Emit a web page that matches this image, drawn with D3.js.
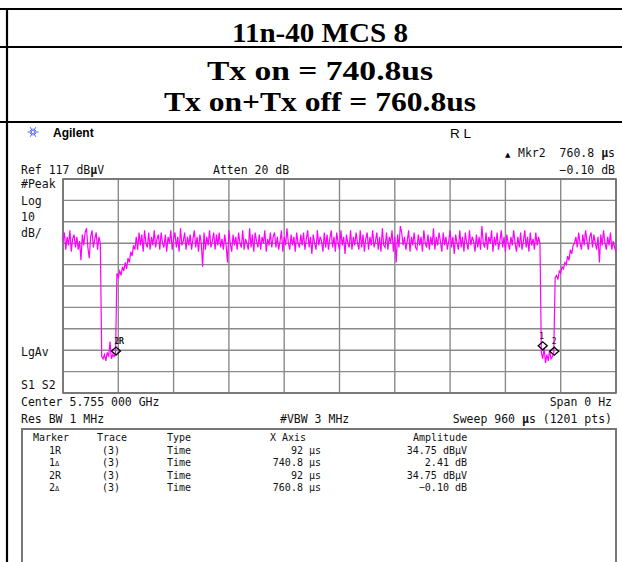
<!DOCTYPE html>
<html><head><meta charset="utf-8">
<script src="https://cdn.jsdelivr.net/npm/d3@7"></script>
<style>html,body{margin:0;padding:0;background:#fff;}svg{display:block;}</style>
</head><body>
<svg id="c" width="622" height="562"></svg>
<script>
// ---------- data ----------
const titleLines = ["11n-40 MCS 8", "Tx on = 740.8us", "Tx on+Tx off = 760.8us"];
const sweepUs = 960;          // zero span sweep time
const refLevel = 117;         // dBµV
const dbPerDiv = 10;
const divisions = 10;

// trace amplitude (dBµV), sampled every 2.4 µs across the 960 µs sweep
const onBurstStart = [88, 92, 84, 90, 86, 93, 83, 89, 91, 85, 90, 84, 88, 79, 91, 86, 92, 94, 85, 80, 90, 93, 85, 89, 92, 84, 90, 87];
const gap1 = [34, 33, 35, 32, 36, 34, 41, 33, 35, 34, 35];
const rise1 = [73, 71, 74, 72, 76, 74, 78, 75, 80, 78, 83, 81, 86, 84];
const onBurstMain = [
  90, 84, 92, 86, 91, 83, 93, 87, 85, 92, 84, 90, 86, 93, 85, 89, 91, 84, 92, 87,
  85, 91, 83, 90, 87, 93, 84, 89, 92, 85, 90, 83, 94, 86, 88, 92, 84, 90, 86, 91,
  84, 89, 93, 85, 90, 83, 91, 87, 76, 92, 84, 90, 86, 93, 85, 88, 92, 84, 91, 86,
  92, 85, 89, 84, 91, 86, 78, 93, 87, 83, 91, 86, 90, 84, 92, 87, 85, 93, 84, 89,
  87, 84, 94, 85, 91, 83, 92, 88, 85, 91, 84, 90, 87, 93, 83, 89, 86, 92, 85, 90,
  92, 85, 90, 84, 88, 93, 83, 90, 86, 94, 87, 84, 91, 86, 90, 83, 92, 87, 85, 91,
  86, 92, 84, 89, 93, 85, 90, 82, 91, 87, 84, 93, 86, 90, 88, 83, 92, 85, 91, 84,
  89, 93, 85, 90, 83, 92, 87, 84, 93, 86, 90, 82, 91, 87, 85, 93, 84, 90, 86, 92,
  87, 84, 93, 85, 91, 83, 89, 92, 84, 90, 86, 93, 85, 88, 92, 84, 90, 83, 94, 86,
  85, 92, 84, 90, 87, 93, 83, 90, 78, 91, 85, 95, 92, 86, 90, 84, 88, 93, 83, 90,
  86, 92, 85, 84, 91, 86, 90, 83, 93, 87, 85, 91, 84, 90, 86, 94, 84, 90, 86, 92,
  88, 83, 92, 86, 90, 84, 88, 93, 85, 90, 82, 91, 87, 84, 93, 85, 90, 83, 92, 87,
  84, 93, 86, 90, 88, 83, 91, 85, 90, 84, 95, 87, 85, 92, 84, 90, 87, 93, 83, 90,
  86, 92, 84, 88, 93, 85, 90, 83, 91, 87, 84, 90, 86, 93, 87, 83, 90, 85, 92, 84,
  88, 93, 85, 90, 83, 92, 86, 89, 84, 92, 86, 90, 87];
const gap2 = [36, 33, 38, 31, 35, 32, 37, 33, 34, 36];
const rise2 = [71, 72, 70, 74, 73, 76, 75, 78, 77, 81, 79, 84, 82, 86, 87];
const onBurstEnd = [90, 85, 92, 87, 84, 91, 86, 93, 88, 84, 90, 92, 85, 91, 87, 84, 90, 78, 91, 86, 93, 87, 84, 90, 86, 92, 84, 88, 85, 83];

// markers
const markerLabels = ["1R", "1\u0394", "2R", "2\u0394"];
const markerTraces = ["(3)", "(3)", "(3)", "(3)"];
const markerTypes = ["Time", "Time", "Time", "Time"];
const markerXText = ["92 \u00b5s", "740.8 \u00b5s", "92 \u00b5s", "760.8 \u00b5s"];
const markerAmpText = ["34.75 dB\u00b5V", "2.41 dB", "34.75 dB\u00b5V", "\u22120.10 dB"];
const refMarkerTime = 92, refMarkerAmp = 34.75;
const deltaTimes = [740.8, 760.8];
const deltaAmps = [2.41, -0.10];

// ---------- drawing ----------
const svg = d3.select("#c");
const trace = [].concat(onBurstStart, gap1, rise1, onBurstMain, gap2, rise2, onBurstEnd);
const stepUs = sweepUs / (trace.length - 1);

// page table lines
const black = "#000";
[9, 47, 122].forEach(y => svg.append("line").attr("x1", 0).attr("x2", 622).attr("y1", y).attr("y2", y)
  .attr("stroke", black).attr("stroke-width", 2.2));
svg.append("line").attr("x1", 7).attr("x2", 7).attr("y1", 8).attr("y2", 562).attr("stroke", black).attr("stroke-width", 2.2);

// titles
const titleY = [42, 80, 111];
const titleLen = [176, 226, 312];
titleLines.forEach((t, i) => svg.append("text").attr("x", 320).attr("y", titleY[i]).attr("text-anchor", "middle")
  .attr("font-family", "'Liberation Serif','Times New Roman',serif").attr("font-weight", "bold")
  .attr("font-size", 28).attr("fill", "#000")
  .attr("textLength", titleLen[i]).attr("lengthAdjust", "spacingAndGlyphs").text(t));

// Agilent logo
const logo = svg.append("g").attr("transform", "translate(33,132)");
d3.range(12).forEach(k => {
  const a = k * Math.PI / 6, r = k % 2 ? 3.5 : 5.5;
  logo.append("line").attr("x1", 0).attr("y1", 0).attr("x2", r * Math.cos(a)).attr("y2", r * Math.sin(a))
    .attr("stroke", "#3a4cff").attr("stroke-width", 0.9);
});
logo.append("circle").attr("r", 1.2).attr("fill", "#fff");
svg.append("text").attr("x", 53).attr("y", 137).attr("font-family", "'Liberation Sans',Arial,sans-serif")
  .attr("font-weight", "bold").attr("font-size", 12).text("Agilent");
svg.append("text").attr("x", 450).attr("y", 138).attr("font-family", "'Liberation Sans',Arial,sans-serif")
  .attr("font-size", 13.5).text("R L");

// analyzer text
const mono = "'DejaVu Sans Mono',monospace";
function mtext(x, y, parts, anchor, size) {
  const t = svg.append("text").attr("x", x).attr("y", y).attr("font-family", mono)
    .attr("font-size", size || 11.5).attr("fill", "#111").attr("text-anchor", anchor || "start");
  (Array.isArray(parts) ? parts : [[parts]]).forEach(p => {
    const s = t.append("tspan").text(p[0]);
    if (p[1]) s.attr("font-weight", "bold");
  });
  return t;
}
mtext(21, 174, [["Ref 117 dB"], ["\u00b5", 1], ["V"]]);
mtext(213, 174, "Atten 20 dB");
mtext(615, 174, "\u22120.10 dB", "end");
svg.append("text").attr("x", 505).attr("y", 157).attr("font-size", 7).attr("font-family", "'DejaVu Sans',sans-serif").text("\u25b2");
mtext(518, 157, "Mkr2");
mtext(615, 157, [["760.8 "], ["\u00b5", 1], ["s"]], "end");
mtext(21, 188, "#Peak");
mtext(21, 205, "Log");
mtext(21, 221, "10");
mtext(21, 237, "dB/");
mtext(21, 356, "LgAv");
mtext(21, 389, "S1  S2");
mtext(21, 406, "Center 5.755 000 GHz");
mtext(612, 406, "Span 0 Hz", "end");
mtext(21, 423, "Res BW 1 MHz");
mtext(280, 423, "#VBW 3 MHz");
mtext(612, 423, [["Sweep 960 "], ["\u00b5", 1], ["s (1201 pts)"]], "end");

// graticule
const x = d3.scaleLinear().domain([0, sweepUs]).range([63, 616]);
const y = d3.scaleLinear().domain([refLevel - dbPerDiv * divisions, refLevel]).range([393, 179]);
const grid = svg.append("g");
const xTicks = d3.range(0, divisions + 1).map(i => i * sweepUs / divisions);
const yTicks = d3.range(0, divisions + 1).map(i => refLevel - i * dbPerDiv);
grid.selectAll(".vx").data(xTicks).join("line").attr("x1", d => x(d)).attr("x2", d => x(d))
  .attr("y1", y.range()[1]).attr("y2", y.range()[0]).attr("stroke", "#8a8a8a").attr("stroke-width", 1.4);
grid.selectAll(".hy").data(yTicks).join("line").attr("y1", d => y(d)).attr("y2", d => y(d))
  .attr("x1", x.range()[0]).attr("x2", x.range()[1]).attr("stroke", "#8a8a8a").attr("stroke-width", 1.4);
grid.append("rect").attr("x", 63).attr("y", 179).attr("width", 553).attr("height", 214)
  .attr("fill", "none").attr("stroke", "#6e6e6e").attr("stroke-width", 1.6);

// trace
const line = d3.line().x((d, i) => x(i * stepUs)).y(d => y(d));
svg.append("path").datum(trace).attr("d", line).attr("fill", "none")
  .attr("stroke", "#ff00ff").attr("stroke-width", 1.2);

// markers
const mk = [
  { t: refMarkerTime, a: refMarkerAmp, lab: ["1R", "2R"], dx: 3 },
  { t: refMarkerTime + deltaTimes[0], a: refMarkerAmp + deltaAmps[0], lab: ["1"], dx: -1 },
  { t: refMarkerTime + deltaTimes[1], a: refMarkerAmp + deltaAmps[1], lab: ["2"], dx: 0 }
];
mk.forEach(m => {
  const cx = x(m.t), cy = y(m.a) - 4;
  svg.append("path").attr("d", `M${cx - 4.5},${cy}L${cx},${cy - 4}L${cx + 4.5},${cy}L${cx},${cy + 4}Z`)
    .attr("fill", "none").attr("stroke", "#000").attr("stroke-width", 1.3);
  m.lab.forEach(l => svg.append("text").attr("x", cx + m.dx).attr("y", cy - 7).attr("text-anchor", "middle")
    .attr("font-family", mono).attr("font-size", 8).attr("fill", "#111").text(l));
});

// marker table box
svg.append("rect").attr("x", 22).attr("y", 429).attr("width", 594).attr("height", 200)
  .attr("fill", "none").attr("stroke", "#777").attr("stroke-width", 2);
const rowY = [441, 454, 466, 479, 491];
const tsz = 10;
mtext(33, rowY[0], "Marker", "start", tsz);
mtext(97, rowY[0], "Trace", "start", tsz);
mtext(167, rowY[0], "Type", "start", tsz);
mtext(270, rowY[0], "X Axis", "start", tsz);
mtext(413, rowY[0], "Amplitude", "start", tsz);
markerLabels.forEach((l, i) => {
  const yy = rowY[i + 1];
  const t = svg.append("text").attr("x", 49).attr("y", yy).attr("font-family", mono).attr("font-size", tsz).attr("fill", "#111");
  t.append("tspan").text(l[0]);
  t.append("tspan").attr("font-size", l[1] === "R" ? tsz : 7).text(l[1]);
  mtext(102, yy, markerTraces[i], "start", tsz);
  mtext(167, yy, markerTypes[i], "start", tsz);
  mtext(321, yy, markerXText[i], "end", tsz);
  mtext(467, yy, markerAmpText[i], "end", tsz);
});
</script>
</body></html>
